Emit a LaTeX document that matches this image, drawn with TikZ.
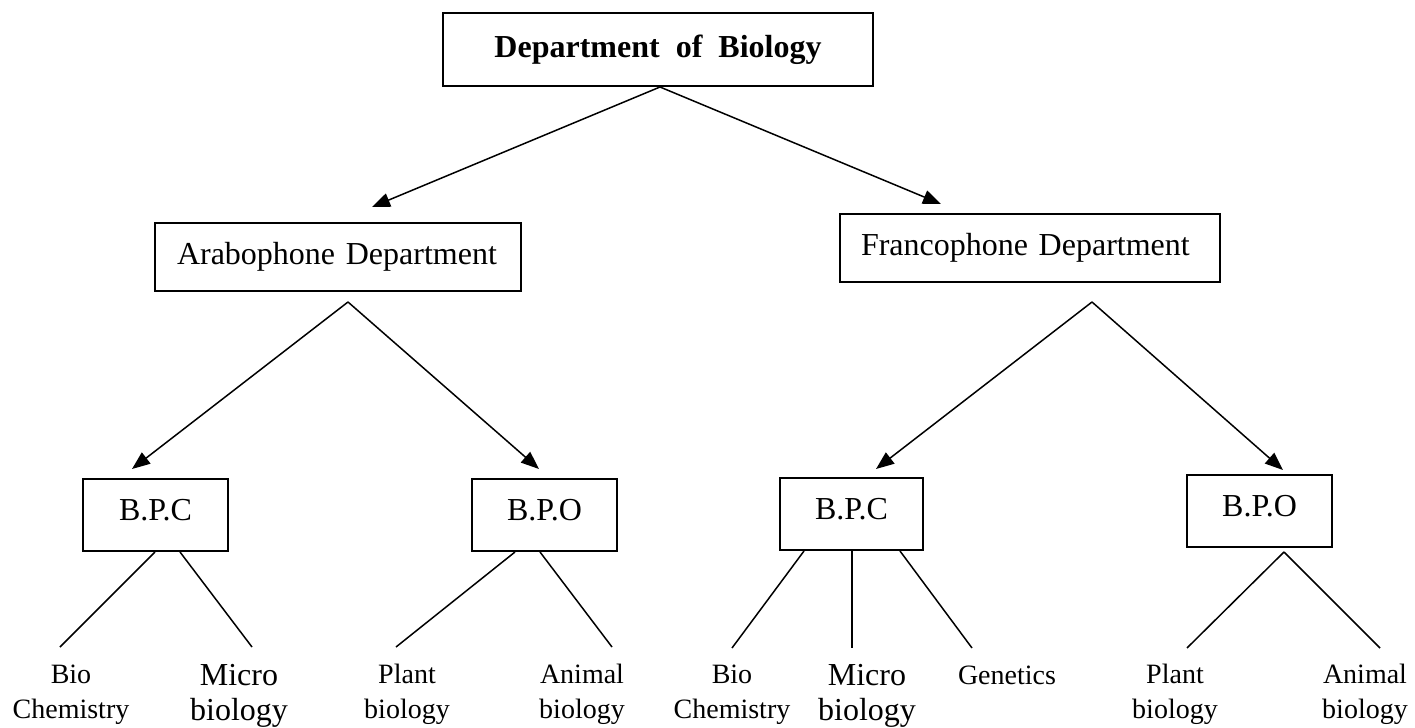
\documentclass[tikz,border=0pt]{standalone}
\usepackage{fontspec}
\setmainfont{Liberation Serif}
\usetikzlibrary{arrows.meta,calc}
\begin{document}
\begin{tikzpicture}[x=0.5pt,y=-0.5pt,
  box/.style={draw, line width=1pt, rectangle, inner sep=0pt, font=\fontsize{16}{19}\selectfont},
  bp/.style={box, minimum width=72.5pt, minimum height=36pt, text depth=5pt},
  conn/.style={line width=0.75pt},
  arr/.style={conn, -{Triangle[length=9pt,width=7pt]}},
  leaf/.style={align=center, anchor=base, inner sep=0pt, font=\fontsize{14}{17.5}\selectfont},
  leafbig/.style={leaf, font=\fontsize{16}{17.5}\selectfont}]
\useasboundingbox (0,0) rectangle (1415,728);

% boxes
\node[box, minimum width=215pt, minimum height=36.5pt,
      font=\bfseries\fontsize{16}{19}\selectfont] (top) at (658,49.5) {Department~~of~~Biology};
\node[box, text width=161pt, inner xsep=11pt, align=left, minimum height=34pt] (arab) at (338,257) {Arabophone Department};
\node[box, text width=169pt, inner xsep=10.5pt, align=left, minimum height=34pt] (franc) at (1030,248) {Francophone Department};
\node[bp] (bpcL) at (155.5,515) {B.P.C};
\node[bp] (bpoL) at (544.5,515) {B.P.O};
\node[bp, minimum width=71.5pt] (bpcR) at (851.5,514) {B.P.C};
\node[bp] (bpoR) at (1259.5,511) {B.P.O};

% fork points and arrow tips
\coordinate (topfork) at (660,87);
\coordinate (arabtip) at (372,207);
\coordinate (franctip) at (941,204);
\coordinate (arabfork) at (348,302);
\coordinate (bpcLtip) at (132,469);
\coordinate (bpoLtip) at (539,469);
\coordinate (francfork) at (1092,302);
\coordinate (bpcRtip) at (876,469);
\coordinate (bpoRtip) at (1283,470);
\coordinate (bpoRfork) at (1284,552);

% arrows
\draw[arr] (topfork) -- (arabtip);
\draw[arr] (topfork) -- (franctip);
\draw[arr] (arabfork) -- (bpcLtip);
\draw[arr] (arabfork) -- (bpoLtip);
\draw[arr] (francfork) -- (bpcRtip);
\draw[arr] (francfork) -- (bpoRtip);

% leaf line ends
\coordinate (e1) at (60,647);
\coordinate (e2) at (252,647);
\coordinate (e3) at (396,647);
\coordinate (e4) at (612,647);
\coordinate (e5) at (732,648);
\coordinate (e6) at (852,648);
\coordinate (e7) at (972,648);
\coordinate (e8) at (1187,648);
\coordinate (e9) at (1380,648);

% leaf lines
\draw[conn] ($(bpcL.south)+(-0.5,0)$) -- (e1);
\draw[conn] ($(bpcL.south)+(24.5,0)$) -- (e2);
\draw[conn] ($(bpoL.south)+(-29.5,0)$) -- (e3);
\draw[conn] ($(bpoL.south)+(-4.5,0)$) -- (e4);
\draw[conn] ($(bpcR.south)+(-47.5,0)$) -- (e5);
\draw[conn] ($(bpcR.south)+(0.5,0)$) -- (e6);
\draw[conn] ($(bpcR.south)+(48.5,0)$) -- (e7);
\draw[conn] (bpoRfork) -- (e8);
\draw[conn] (bpoRfork) -- (e9);

% leaf labels (base = baseline of the last line)
\node[leaf] (l1) at (71,718) {Bio\\Chemistry};
\node[leafbig] (l2) at (239,720) {Micro\\biology};
\node[leaf] (l3) at (407,718) {Plant\\biology};
\node[leaf] (l4) at (582,718) {Animal\\biology};
\node[leaf] (r1) at (732,718) {Bio\\Chemistry};
\node[leafbig] (r2) at (867,720) {Micro\\biology};
\node[leaf] (r3) at (1007,684) {Genetics};
\node[leaf] (r4) at (1175,718) {Plant\\biology};
\node[leaf] (r5) at (1365,718) {Animal\\biology};
\end{tikzpicture}
\end{document}
